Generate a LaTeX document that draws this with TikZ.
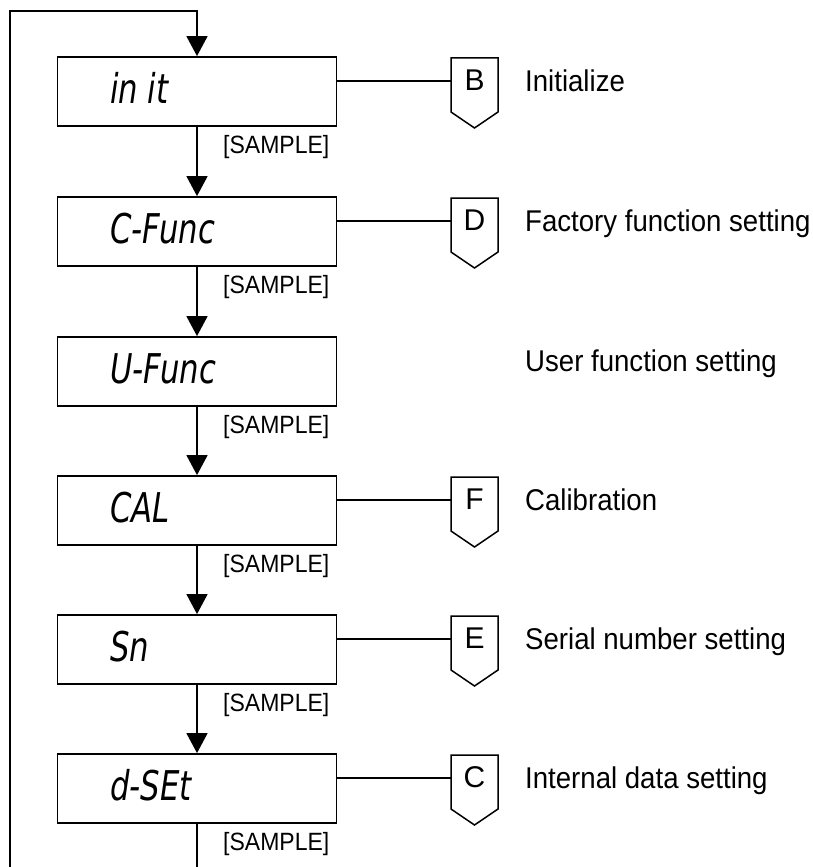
\documentclass[tikz,border=0pt]{standalone}
\usepackage{fontspec}
\setmainfont{Liberation Sans}
\newfontfamily\segfont{DejaVu Sans}
\usetikzlibrary{arrows.meta,calc}
\newcommand{\narrow}[1]{\scalebox{0.92}[1]{#1}}
\begin{document}
\begin{tikzpicture}[x=1pt,y=-1pt,
  dispbox/.style={draw, line width=1.8pt, minimum width=279pt, minimum height=69pt, inner sep=0pt},
  seg/.style={anchor=base west, inner sep=0pt, font=\segfont\itshape\fontsize{41}{41}\selectfont},
  lab/.style={anchor=base west, inner sep=0pt, font=\fontsize{30}{32}\selectfont},
  samp/.style={anchor=base west, inner sep=0pt, font=\fontsize{25}{27}\selectfont},
  letter/.style={anchor=base, inner sep=0pt, font=\fontsize{30}{32}\selectfont},
  pent/.style={minimum width=47pt, minimum height=54pt, inner sep=0pt, outer sep=0pt},
  pentline/.style={line width=1.5pt, line join=miter},
  conn/.style={line width=1.5pt},
  flow/.style={line width=1.6pt, -{Triangle[width=21pt,length=20pt]}},
  plain/.style={line width=1.6pt}]
\useasboundingbox (0,0) rectangle (813,867);

\foreach \i/\T/\txt/\lab in {1/57/{in it}/Initialize, 2/197/C-Func/Factory function setting, 3/337/U-Func/User function setting, 4/476/CAL/Calibration, 5/615/Sn/Serial number setting, 6/754/d-SEt/Internal data setting}{
  \node[dispbox] (b\i) at (197, \T+34.5) {};
  \node[seg] (s\i) at (110, \T+46) {\scalebox{0.75}[1]{\txt}};
  \node[lab] (t\i) at (525, \T+34) {\narrow{\lab}};
  \node[samp] (m\i) at (223, \T+96) {\narrow{[SAMPLE]}};
}

\foreach \i/\T/\L in {1/57/B, 2/197/D, 4/476/F, 5/615/E, 6/754/C}{
  \node[pent] (p\i) at (474.5, \T+28) {};
  \draw[pentline] (p\i.north west) -- (p\i.north east) -- (p\i.south east)
     -- ($(p\i.south)+(0,16)$) -- (p\i.south west) -- cycle;
  \node[letter] (l\i) at (474.5, \T+33) {\L};
  \coordinate (c\i) at (0, \T+24);
  \draw[conn] (b\i.east |- c\i) -- (p\i.west |- c\i);
}

\draw[flow] (b1.south) -- (b2.north);
\draw[flow] (b2.south) -- (b3.north);
\draw[flow] (b3.south) -- (b4.north);
\draw[flow] (b4.south) -- (b5.north);
\draw[flow] (b5.south) -- (b6.north);

\coordinate (lb) at (10, 868);
\coordinate (lt) at (10, 11);
\coordinate (tt) at (197, 11);
\coordinate (bot) at (197, 868);
\draw[flow] (lb) -- (lt) -- (tt) -- (b1.north);
\draw[plain] (b6.south) -- (bot);
\end{tikzpicture}
\end{document}
